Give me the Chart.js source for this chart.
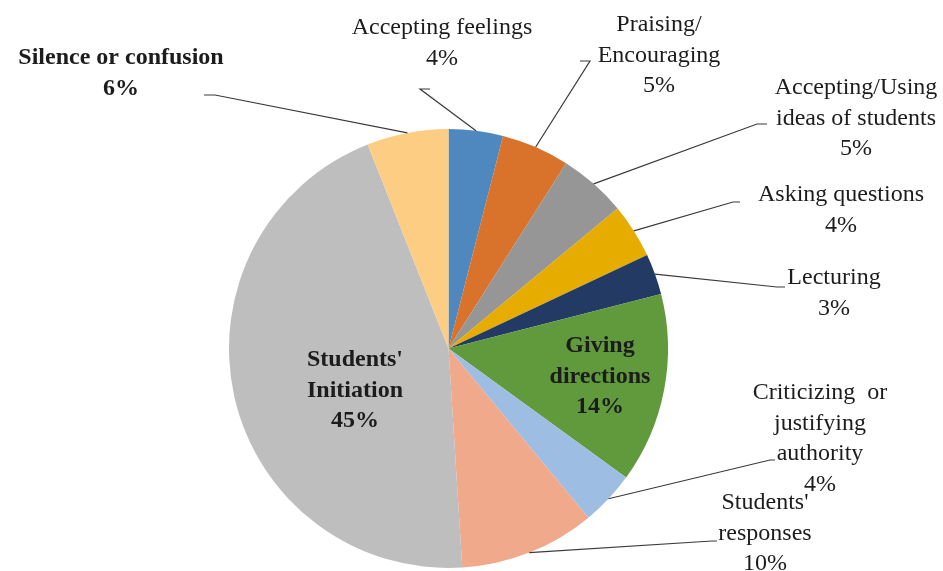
<!DOCTYPE html>
<html>
<head>
<meta charset="utf-8">
<script src="https://cdn.jsdelivr.net/npm/chart.js@4/dist/chart.umd.min.js"></script>
<style>
  html, body { margin: 0; padding: 0; background: #fff; }
  #wrap { width: 943px; height: 571px; position: relative; }
</style>
</head>
<body>
<div id="wrap"><canvas id="myChart"></canvas></div>
<script>
// Catégories et valeurs (%)
const categories = [
    ['Accepting feelings'],
    ['Praising/', 'Encouraging'],
    ['Accepting/Using', 'ideas of students'],
    ['Asking questions'],
    ['Lecturing'],
    ['Giving', 'directions'],
    ['Criticizing  or', 'justifying', 'authority'],
    ["Students'", 'responses'],
    ["Students'", 'Initiation'],
    ['Silence or confusion']
];
const values = [4, 5, 5, 4, 3, 14, 4, 10, 45, 6];
const colors = ['#4f88bf', '#d9722b', '#969696', '#e6ac00', '#223a64',
                '#619a3d', '#9ebde3', '#f0a98a', '#bebebe', '#fecd84'];

// Placement des étiquettes : centre du texte, y de la 1re ligne, coude de la ligne de rappel
const labelLayout = [
    { x: 442, y: 28, bold: false, elbow: [420, 89, 430] },
    { x: 659, y: 25, bold: false, elbow: [590, 61, 580] },
    { x: 856, y: 88, bold: false, elbow: [757, 124, 767] },
    { x: 841, y: 195, bold: false, elbow: [733, 202, 740] },
    { x: 834, y: 278, bold: false, elbow: [777, 287, 785] },
    { x: 600, y: 346, bold: true, inside: true },
    { x: 820, y: 393, bold: false, elbow: [770, 460, 775] },
    { x: 765, y: 503, bold: false, elbow: [712, 541, 717] },
    { x: 355, y: 360, bold: true, inside: true },
    { x: 121, y: 58, bold: true, elbow: [215, 95, 204] }
];

const lineH = 30.5;

// Plugin maison pour les étiquettes et les lignes de rappel
const pieLabels = {
    id: 'pieLabels',
    afterDatasetsDraw(chart) {
        const c = chart.ctx;
        const arcs = chart.getDatasetMeta(0).data;
        c.save();
        arcs.forEach((arc, i) => {
            const lay = labelLayout[i];
            if (lay.elbow) {
                const p = arc.getProps(['x', 'y', 'startAngle', 'endAngle', 'outerRadius'], true);
                const mid = (p.startAngle + p.endAngle) / 2;
                const ex = p.x + Math.cos(mid) * p.outerRadius;
                const ey = p.y + Math.sin(mid) * p.outerRadius;
                c.beginPath();
                c.strokeStyle = '#3a3a3a';
                c.lineWidth = 1.2;
                c.moveTo(ex, ey);
                c.lineTo(lay.elbow[0], lay.elbow[1]);
                c.lineTo(lay.elbow[2], lay.elbow[1]);
                c.stroke();
            }
            const lines = categories[i].concat([values[i] + '%']);
            c.fillStyle = '#1c1c1c';
            c.font = (lay.bold ? 'bold ' : '') + '24px "Liberation Serif", "Times New Roman", serif';
            c.textAlign = 'center';
            c.textBaseline = 'middle';
            lines.forEach((t, k) => c.fillText(t, lay.x, lay.y + k * lineH));
        });
        c.restore();
    }
};

const ctx = document.getElementById('myChart').getContext('2d');
const myChart = new Chart(ctx, {
    type: 'pie',
    data: {
        labels: categories.map(l => l.join(' ')),
        datasets: [{
            data: values,
            backgroundColor: colors,
            borderWidth: 0
        }]
    },
    options: {
        responsive: true,
        maintainAspectRatio: false,
        animation: false,
        layout: {
            padding: { top: 129, bottom: 3, left: 229, right: 275 }
        },
        plugins: {
            legend: { display: false },
            tooltip: { enabled: false }
        }
    },
    plugins: [pieLabels]
});
</script>
</body>
</html>
